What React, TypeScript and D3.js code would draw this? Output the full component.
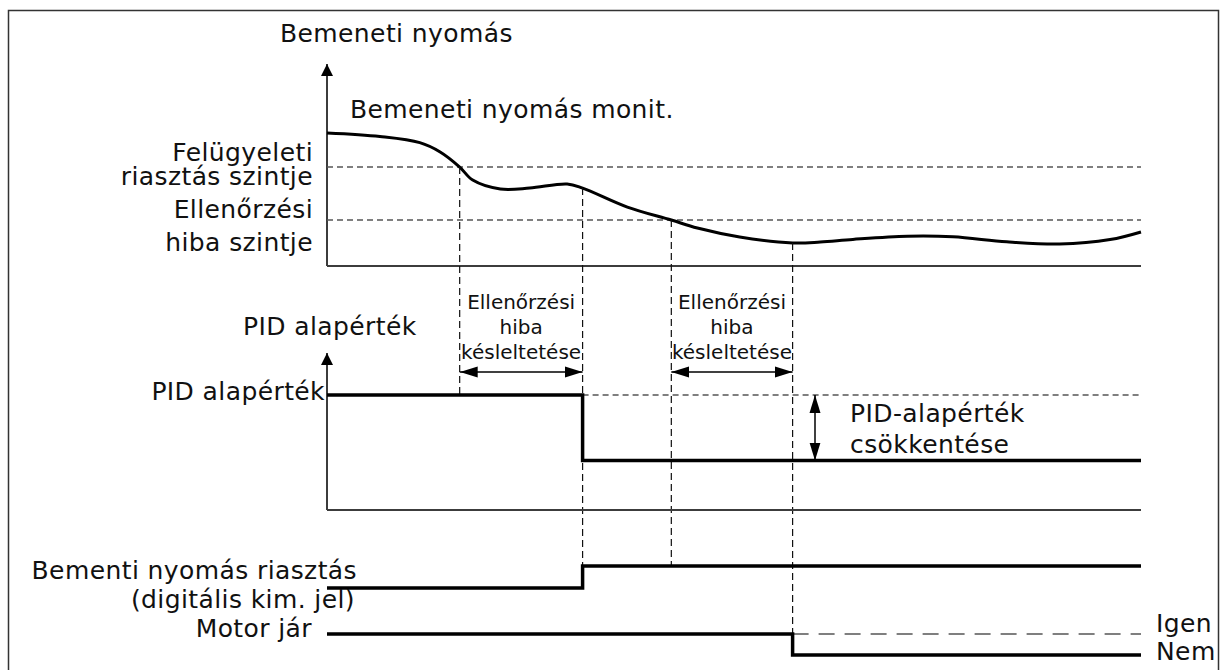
import React from "react";
import * as d3 from "d3";

// time axis runs 0..100 across both panels
const timeDomain = [0, 100];

// input pressure curve (time, value in %)
const pressureTimes = [0, 6.5, 11.4, 13.9, 16.3, 17.9, 21.3, 24.9, 29.5, 31.4, 36.9, 42.3, 45.5, 50.7, 57.2, 60.6, 64.6, 71.3, 76.9, 83.5, 90.0, 96.2, 100];
const pressureValues = [71.5, 69.6, 66.3, 61.3, 53.2, 46.2, 41.4, 41.9, 44.1, 41.9, 31.7, 24.7, 20.4, 15.6, 12.4, 12.9, 14.3, 16.0, 15.7, 13.0, 11.8, 14.2, 18.3];

const alarmLevel = 53.2;
const faultLevel = 24.7;

// events: alarm crossing, alarm delay end, fault crossing, fault delay end
const eventTimes = [16.3, 31.4, 42.3, 57.2];

// PID setpoint (step after)
const pidTimes = [0, 31.4, 100];
const pidValues = [100, 43, 43];

// digital output: input pressure alarm
const alarmTimes = [0, 31.4, 100];
const alarmValues = [0, 1, 1];

// motor running
const motorTimes = [0, 57.2, 100];
const motorValues = [1, 0, 0];

const delayLabel = ["Ellenőrzési", "hiba", "késleltetése"];

const W = 1223;
const H = 670;
const FONT = "DejaVu Sans, Verdana, sans-serif";

export default function App() {
  const x = d3.scaleLinear().domain(timeDomain).range([327, 1141]);
  const yP = d3.scaleLinear().domain([0, 100]).range([266, 80]);
  const yPid = d3.scaleLinear().domain([0, 100]).range([510, 395]);
  const yAlarm = d3.scaleLinear().domain([0, 1]).range([588, 566]);
  const yMotor = d3.scaleLinear().domain([0, 1]).range([655, 634]);

  const pressure = pressureTimes.map((t, i) => [t, pressureValues[i]] as [number, number]);
  const curve = d3.line<[number, number]>()
    .x(d => x(d[0]))
    .y(d => yP(d[1]))
    .curve(d3.curveCatmullRom.alpha(0.5));

  const step = (ts: number[], vs: number[], sy: d3.ScaleLinear<number, number>) =>
    d3.line<number>()
      .x(i => x(ts[i]))
      .y(i => sy(vs[i]))
      .curve(d3.curveStepAfter)(ts.map((_, i) => i)) || "";

  const valueAt = (t: number) => pressureValues[pressureTimes.indexOf(t)];

  // vertical guide lines: from the curve down to the signal they trigger
  const guides = [
    { t: eventTimes[0], y1: yP(alarmLevel), y2: yPid(pidValues[0]) },
    { t: eventTimes[1], y1: yP(valueAt(eventTimes[1])), y2: yAlarm(1) },
    { t: eventTimes[2], y1: yP(faultLevel), y2: yAlarm(1) },
    { t: eventTimes[3], y1: yP(valueAt(eventTimes[3])), y2: yMotor(1) },
  ];

  const delays = [
    [eventTimes[0], eventTimes[1]],
    [eventTimes[2], eventTimes[3]],
  ];

  const x0 = x(timeDomain[0]);
  const x1 = x(timeDomain[1]);
  const axisColor = "#3c3c3c";
  const dashColor = "#555";

  return (
    <div style={{ position: "absolute", left: 0, top: 0 }}>
      <svg width={W} height={H} style={{ display: "block", background: "#fff" }} fontFamily={FONT}>
        <defs>
          <marker id="head" markerUnits="userSpaceOnUse" markerWidth={18} markerHeight={12}
            refX={18} refY={6} orient="auto-start-reverse">
            <path d="M0,0.5 L18,6 L0,11.5 Z" fill="#000" />
          </marker>
          <marker id="axisHead" markerUnits="userSpaceOnUse" markerWidth={12} markerHeight={12}
            refX={12} refY={6} orient="auto">
            <path d="M0,0 L12,6 L0,12 Z" fill="#000" />
          </marker>
        </defs>

        <rect x={8.5} y={10.5} width={1210} height={H} fill="none" stroke="#333" strokeWidth={1.5} />

        {/* top panel: input pressure */}
        <line x1={x0} x2={x0} y1={266} y2={64} stroke={axisColor} strokeWidth={2} markerEnd="url(#axisHead)" />
        <line x1={x0} x2={x1} y1={266} y2={266} stroke={axisColor} strokeWidth={2} />
        {[alarmLevel, faultLevel].map((lv, i) => (
          <line key={i} x1={x0} x2={x1} y1={yP(lv)} y2={yP(lv)} stroke={dashColor} strokeWidth={1.5} strokeDasharray="6,4" />
        ))}
        <path d={curve(pressure) || ""} fill="none" stroke="#000" strokeWidth={3} />

        {/* vertical guides */}
        {guides.map((g, i) => (
          <line key={i} x1={x(g.t)} x2={x(g.t)} y1={g.y1} y2={g.y2} stroke="#111" strokeWidth={1.2} strokeDasharray="7,4" />
        ))}

        {/* delay brackets */}
        {delays.map((d, i) => {
          const cx = (x(d[0]) + x(d[1])) / 2;
          return (
            <g key={i}>
              <line x1={x(d[0])} x2={x(d[1])} y1={372} y2={372} stroke="#000" strokeWidth={1.5}
                markerStart="url(#head)" markerEnd="url(#head)" />
              {delayLabel.map((s, j) => (
                <text key={j} x={cx} y={309 + j * 25} textAnchor="middle" fontSize={20} fill="#111">{s}</text>
              ))}
            </g>
          );
        })}

        {/* PID panel */}
        <line x1={x0} x2={x0} y1={510} y2={353} stroke={axisColor} strokeWidth={2} markerEnd="url(#axisHead)" />
        <line x1={x0} x2={x1} y1={510} y2={510} stroke={axisColor} strokeWidth={2} />
        <line x1={x(eventTimes[1])} x2={x1} y1={yPid(pidValues[0])} y2={yPid(pidValues[0])}
          stroke={dashColor} strokeWidth={1.5} strokeDasharray="6,4" />
        <path d={step(pidTimes, pidValues, yPid)} fill="none" stroke="#000" strokeWidth={3.5} />
        <line x1={815} x2={815} y1={yPid(pidValues[0])} y2={yPid(pidValues[1])} stroke="#000" strokeWidth={1.5}
          markerStart="url(#head)" markerEnd="url(#head)" />

        {/* digital signals */}
        <path d={step(alarmTimes, alarmValues, yAlarm)} fill="none" stroke="#000" strokeWidth={3.5} />
        <line x1={x(eventTimes[3])} x2={x1} y1={yMotor(1)} y2={yMotor(1)} stroke="#555" strokeWidth={1.5} strokeDasharray="16,10" />
        <path d={step(motorTimes, motorValues, yMotor)} fill="none" stroke="#000" strokeWidth={3.5} />

        {/* labels */}
        <g fontSize={25} letterSpacing={0.4} fill="#111">
          <text x={280} y={42}>Bemeneti nyomás</text>
          <text x={350} y={118}>Bemeneti nyomás monit.</text>
          <text x={313} y={161} textAnchor="end">Felügyeleti</text>
          <text x={313} y={185} textAnchor="end">riasztás szintje</text>
          <text x={313} y={218} textAnchor="end">Ellenőrzési</text>
          <text x={313} y={251} textAnchor="end">hiba szintje</text>
          <text x={243} y={335}>PID alapérték</text>
          <text x={325} y={400} textAnchor="end">PID alapérték</text>
          <text x={850} y={422}>PID-alapérték</text>
          <text x={850} y={453}>csökkentése</text>
          <text x={357} y={579} textAnchor="end">Bementi nyomás riasztás</text>
          <text x={355} y={608} textAnchor="end">(digitális kim. jel)</text>
          <text x={312} y={637} textAnchor="end">Motor jár</text>
          <text x={1156} y={632}>Igen</text>
          <text x={1156} y={660}>Nem</text>
        </g>
      </svg>
    </div>
  );
}
